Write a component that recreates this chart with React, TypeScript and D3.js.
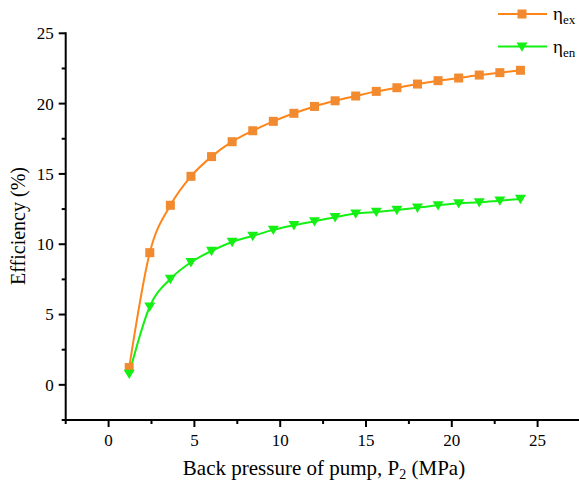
import React from "react";
import * as d3 from "d3";

const pressure = [1.2, 2.4, 3.6, 4.8, 6.0, 7.2, 8.4, 9.6, 10.8, 12.0, 13.2, 14.4, 15.6, 16.8, 18.0, 19.2, 20.4, 21.6, 22.8, 24.0];
const etaEx = [1.23, 9.4, 12.77, 14.83, 16.23, 17.29, 18.07, 18.74, 19.31, 19.8, 20.2, 20.54, 20.87, 21.13, 21.39, 21.63, 21.82, 22.03, 22.2, 22.37];
const etaEn = [0.78, 5.57, 7.53, 8.72, 9.52, 10.16, 10.59, 11.02, 11.35, 11.63, 11.92, 12.18, 12.3, 12.44, 12.6, 12.77, 12.91, 12.98, 13.1, 13.22];
const xTicks = [0, 5, 10, 15, 20, 25];
const xMinor = [-2.5, 2.5, 7.5, 12.5, 17.5, 22.5];
const yTicks = [0, 5, 10, 15, 20, 25];
const yMinor = [-2.5, 2.5, 7.5, 12.5, 17.5, 22.5];

const ORANGE_LINE = "#FF8519";
const ORANGE_MARK = "#F28A2F";
const GREEN = "#14F014";
const FONT = "'Liberation Serif', 'Times New Roman', 'DejaVu Serif', serif";

export default function App() {
  const W = 579, H = 484;
  const x0 = 65.7;
  const y0 = 420;
  const x = d3.scaleLinear().domain([-2.5, 28]).range([x0, x0 + 30.5 * 17.16]);
  const y = d3.scaleLinear().domain([-2.5, 25]).range([y0, 33.3]);

  const line = d3
    .line<number>()
    .x((_, i) => x(pressure[i]))
    .y((d) => y(d))
    .curve(d3.curveMonotoneX);

  const sq = 9;
  const tri = (cx: number, cy: number, s: number) =>
    `M${cx - s},${cy - s * 0.75}L${cx + s},${cy - s * 0.75}L${cx},${cy + s * 0.95}Z`;

  return (
    <svg width={W} height={H} style={{ position: "absolute", left: 0, top: 0, fontFamily: FONT }}>
      <rect width={W} height={H} fill="#fff" />
      {/* series */}
      <path d={line(etaEx) || ""} fill="none" stroke={ORANGE_LINE} strokeWidth={2} />
      <path d={line(etaEn) || ""} fill="none" stroke={GREEN} strokeWidth={2} />
      {etaEx.map((v, i) => (
        <rect key={"o" + i} x={x(pressure[i]) - sq / 2} y={y(v) - sq / 2} width={sq} height={sq} fill={ORANGE_MARK} />
      ))}
      {etaEn.map((v, i) => (
        <path key={"g" + i} d={tri(x(pressure[i]), y(v), 5.5)} fill={GREEN} />
      ))}
      {/* axes */}
      <line x1={x0} x2={x0} y1={y(25) - 1} y2={y0 + 1} stroke="#000" strokeWidth={2} />
      <line x1={x0 - 1} x2={W + 20} y1={y0} y2={y0} stroke="#000" strokeWidth={2} />
      {yTicks.map((t) => (
        <g key={"yt" + t}>
          <line x1={x0 - 7} x2={x0} y1={y(t)} y2={y(t)} stroke="#000" strokeWidth={2} />
          <text x={x0 - 12} y={y(t)} dy="0.35em" textAnchor="end" fontSize={17}>
            {t}
          </text>
        </g>
      ))}
      {yMinor.map((t) => (
        <line key={"ym" + t} x1={x0 - 4} x2={x0} y1={y(t)} y2={y(t)} stroke="#000" strokeWidth={2} />
      ))}
      {xTicks.map((t) => (
        <g key={"xt" + t}>
          <line x1={x(t)} x2={x(t)} y1={y0} y2={y0 + 7} stroke="#000" strokeWidth={2} />
          <text x={x(t)} y={y0 + 26} textAnchor="middle" fontSize={17}>
            {t}
          </text>
        </g>
      ))}
      {xMinor.map((t) => (
        <line key={"xm" + t} x1={x(t)} x2={x(t)} y1={y0} y2={y0 + 4} stroke="#000" strokeWidth={2} />
      ))}
      {/* axis titles */}
      <text x={324} y={475} textAnchor="middle" fontSize={21}>
        Back pressure of pump, P<tspan fontSize={14} dy={4}>2</tspan>
        <tspan dy={-4}> (MPa)</tspan>
      </text>
      <text transform={`translate(25,${226}) rotate(-90)`} textAnchor="middle" fontSize={20}>
        Efficiency (%)
      </text>
      {/* legend */}
      <line x1={498} x2={547} y1={14} y2={14} stroke={ORANGE_LINE} strokeWidth={2} />
      <rect x={522 - sq / 2} y={14 - sq / 2} width={sq} height={sq} fill={ORANGE_MARK} />
      <text x={553} y={20} fontSize={19}>
        η<tspan fontSize={13} dy={4}>ex</tspan>
      </text>
      <line x1={498} x2={547} y1={46.5} y2={46.5} stroke={GREEN} strokeWidth={2} />
      <path d={tri(522, 46.5, 5.5)} fill={GREEN} />
      <text x={553} y={53} fontSize={19}>
        η<tspan fontSize={13} dy={4}>en</tspan>
      </text>
    </svg>
  );
}
